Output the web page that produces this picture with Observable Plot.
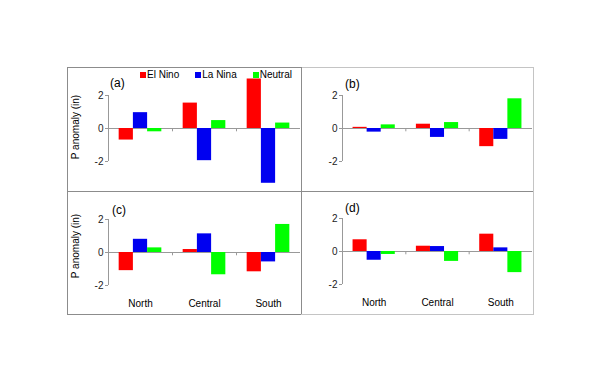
<!DOCTYPE html>
<html><head><meta charset="utf-8">
<script src="https://cdn.jsdelivr.net/npm/d3@7"></script>
<script src="https://cdn.jsdelivr.net/npm/@observablehq/plot@0.6"></script>
<style>
body{margin:0;background:#fff;font-family:"Liberation Sans",Arial,sans-serif;}
#wrap{position:relative;width:600px;height:383px;overflow:hidden;background:#fff}
.plot{position:absolute}
.line{position:absolute}
.plabel{position:absolute;font-size:12px;line-height:12px;color:#000}
.ytitle{position:absolute;font-size:10px;line-height:10px;white-space:nowrap;transform:translate(-50%,-50%) rotate(-90deg);color:#000}
#legend{position:absolute;left:140px;top:70px;display:flex;font-size:10px;line-height:10px;color:#000}
#legend .item{display:flex;align-items:center;margin-right:16px}
#legend .sw{width:6px;height:6px;margin-right:1px}
</style></head><body><div id="wrap"></div>
<script>
const regions = ["North", "Central", "South"];
const series = ["El Nino", "La Nina", "Neutral"];
const seriesColors = ["#ff0000", "#0000f0", "#00ff00"];
const yTicks = [-2, 0, 2];
const yTitle = "P anomaly (in)";

// panel (a)
const aElNino = [-0.70, 1.54, 3.00];
const aLaNina = [0.96, -1.95, -3.32];
const aNeutral = [-0.20, 0.48, 0.33];
// panel (b)
const bElNino = [0.07, 0.26, -1.10];
const bLaNina = [-0.22, -0.54, -0.66];
const bNeutral = [0.22, 0.36, 1.80];
// panel (c)
const cElNino = [-1.10, 0.18, -1.17];
const cLaNina = [0.80, 1.13, -0.57];
const cNeutral = [0.28, -1.35, 1.70];
// panel (d)
const dElNino = [0.71, 0.32, 1.05];
const dLaNina = [-0.53, 0.30, 0.22];
const dNeutral = [-0.18, -0.60, -1.28];

const panelLabels = ["(a)", "(b)", "(c)", "(d)"];

const panels = [
  {label: panelLabels[0], data: [aElNino, aLaNina, aNeutral], left: 67, top: 67, w: 234, h: 124, mt: 1.6, mb: 3.6, dom: [-3.6, 3.6], cats: false, lx: 110, ly: 77},
  {label: panelLabels[1], data: [bElNino, bLaNina, bNeutral], left: 301, top: 67, w: 232, h: 124, mt: 1.6, mb: 3.6, dom: [-3.6, 3.6], cats: false, lx: 345, ly: 78},
  {label: panelLabels[2], data: [cElNino, cLaNina, cNeutral], left: 67, top: 191, w: 234, h: 123, mt: 1.6, mb: 20.75, dom: [-2.5, 3.6], cats: true, lx: 112, ly: 204},
  {label: panelLabels[3], data: [dElNino, dLaNina, dNeutral], left: 301, top: 191, w: 232, h: 123, mt: 0.6, mb: 21.75, dom: [-2.5, 3.6], cats: true, lx: 345, ly: 202}
];

const wrap = document.getElementById("wrap");

panels.forEach(p => {
  const rows = [];
  regions.forEach((r, ci) => series.forEach((s, si) => rows.push({region: r, series: s, ci, si, value: p.data[si][ci]})));
  const marks = [
    Plot.ruleY([0], {x1: 0, x2: 3, stroke: "#999"}),
    Plot.ruleX([1, 2], {y1: 0, y2: -0.2, stroke: "#999"}),
    Plot.ruleX([0], {y1: -2, y2: 2, stroke: "#999"}),
    Plot.axisY({ticks: yTicks, tickSize: 3, tickPadding: 2, fontSize: 10, stroke: "#999", fill: "#222", label: null, tickFormat: d => String(d)}),
    Plot.rectY(rows, {x1: d => d.ci + (0.75 + d.si) / 4.5, x2: d => d.ci + (1.75 + d.si) / 4.5, y1: 0, y2: "value", fill: "series"})
  ];
  if (p.cats) {
    marks.push(Plot.axisX({ticks: [0.5, 1.5, 2.5], tickFormat: (d) => regions[Math.floor(d)], tickSize: 0, tickPadding: 6, fontSize: 10, fill: "#000", label: null}));
  }
  const svg = Plot.plot({
    width: p.w, height: p.h,
    marginLeft: 41, marginRight: 1, marginTop: p.mt, marginBottom: p.mb,
    style: {background: "transparent", fontFamily: "Liberation Sans, Arial, sans-serif", fontSize: "10px"},
    x: {domain: [0, 3], axis: null},
    y: {domain: p.dom, axis: null},
    color: {domain: series, range: seriesColors},
    marks
  });
  svg.classList.add("plot");
  svg.style.left = p.left + "px";
  svg.style.top = p.top + "px";
  svg.style.position = "absolute";
  wrap.appendChild(svg);
  const lab = document.createElement("div");
  lab.className = "plabel";
  lab.textContent = p.label;
  lab.style.left = p.lx + "px";
  lab.style.top = p.ly + "px";
  wrap.appendChild(lab);
});

// y titles
[127, 246].forEach(cy => {
  const t = document.createElement("div");
  t.className = "ytitle";
  t.textContent = yTitle;
  t.style.left = "76px";
  t.style.top = cy + "px";
  wrap.appendChild(t);
});

// legend
const leg = document.createElement("div");
leg.id = "legend";
series.forEach((s, i) => {
  const it = document.createElement("div");
  it.className = "item";
  const sw = document.createElement("div");
  sw.className = "sw";
  sw.style.background = seriesColors[i];
  const tx = document.createElement("span");
  tx.textContent = s;
  it.appendChild(sw); it.appendChild(tx);
  leg.appendChild(it);
});
wrap.appendChild(leg);

// panel borders
function line(x, y, w, h, c) {
  const d = document.createElement("div");
  d.className = "line";
  Object.assign(d.style, {left: x + "px", top: y + "px", width: w + "px", height: h + "px", background: c});
  wrap.appendChild(d);
}
const dark = "#8c8c8c", light = "#c4c4c4";
line(67, 67, 234, 1, dark);
line(301, 67, 232, 1, light);
line(67, 67, 1, 248, dark);
line(301, 67, 1, 248, dark);
line(533, 67, 1, 248, light);
line(67, 191, 466, 1, dark);
line(67, 314, 234, 1, dark);
line(301, 314, 233, 1, light);
</script></body></html>
